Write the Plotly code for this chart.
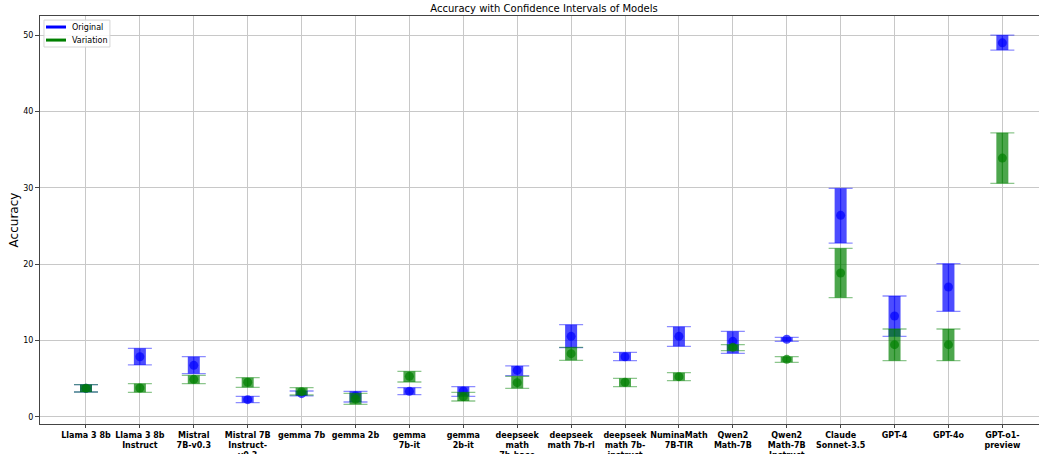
import plotly.graph_objects as go

models = ["Llama 3 8b", "Llama 3 8b Instruct", "Mistral 7B-v0.3", "Mistral 7B Instruct-v0.3",
          "gemma 7b", "gemma 2b", "gemma 7b-it", "gemma 2b-it", "deepseek math 7b-base",
          "deepseek math 7b-rl", "deepseek math 7b-instruct", "NuminaMath 7B-TIR",
          "Qwen2 Math-7B", "Qwen2 Math-7B Instruct", "Claude Sonnet-3.5", "GPT-4", "GPT-4o",
          "GPT-o1-preview"]

tick_labels = ["Llama 3 8b", "Llama 3 8b<br>Instruct", "Mistral<br>7B-v0.3", "Mistral 7B<br>Instruct-<br>v0.3",
               "gemma 7b", "gemma 2b", "gemma<br>7b-it", "gemma<br>2b-it", "deepseek<br>math<br>7b-base",
               "deepseek<br>math 7b-rl", "deepseek<br>math 7b-<br>instruct", "NuminaMath<br>7B-TIR",
               "Qwen2<br>Math-7B", "Qwen2<br>Math-7B<br>Instruct", "Claude<br>Sonnet-3.5", "GPT-4", "GPT-4o",
               "GPT-o1-<br>preview"]

orig_mean = [3.75, 7.89, 6.76, 2.27, 3.05, 2.79, 3.36, 3.40, 6.11, 10.56, 7.89, 10.56, 9.90, 10.17, 26.4, 13.22, 17.02, 48.99]
orig_low = [3.27, 6.81, 5.67, 1.88, 2.75, 1.96, 2.92, 2.71, 5.41, 9.07, 7.37, 9.25, 8.33, 9.90, 22.77, 10.56, 13.83, 48.04]
orig_high = [4.23, 8.99, 7.89, 2.71, 3.40, 3.36, 3.84, 3.97, 6.68, 12.08, 8.46, 11.82, 11.21, 10.43, 29.93, 15.84, 20.07, 50.0]

var_mean = [3.75, 3.80, 4.93, 4.54, 3.31, 2.36, 5.32, 2.66, 4.49, 8.29, 4.54, 5.28, 9.12, 7.55, 18.85, 9.47, 9.47, 33.9]
var_low = [3.27, 3.23, 4.36, 3.88, 2.88, 1.66, 4.58, 2.09, 3.75, 7.42, 3.97, 4.76, 8.68, 7.16, 15.62, 7.37, 7.37, 30.58]
var_high = [4.23, 4.36, 5.45, 5.15, 3.84, 3.10, 5.98, 3.23, 5.32, 9.12, 5.06, 5.80, 9.47, 7.89, 22.08, 11.52, 11.52, 37.21]

y_ticks = [0, 10, 20, 30, 40, 50]

series = [
    ("Original", orig_mean, orig_low, orig_high, (0, 0, 255)),
    ("Variation", var_mean, var_low, var_high, (0, 128, 0)),
]

xs = list(range(len(models)))
fig = go.Figure()

for name, mean, low, high, (r, g, b) in series:
    plus = [h - m for h, m in zip(high, mean)]
    minus = [m - l for m, l in zip(mean, low)]
    # thick interval bar + marker
    fig.add_trace(go.Scatter(
        x=xs, y=mean, mode="markers", showlegend=False, name=name,
        marker=dict(size=9, color=f"rgba({r},{g},{b},0.7)", line=dict(width=0)),
        error_y=dict(type="data", symmetric=False, array=plus, arrayminus=minus,
                     thickness=12, width=0, color=f"rgba({r},{g},{b},0.7)"),
        hovertext=models,
    ))
    # caps
    fig.add_trace(go.Scatter(
        x=xs, y=mean, mode="markers", showlegend=False, hoverinfo="skip",
        marker=dict(size=1, opacity=0),
        error_y=dict(type="data", symmetric=False, array=plus, arrayminus=minus,
                     thickness=1.3, width=12, color=f"rgba({r},{g},{b},0.45)"),
    ))

# legend box (matplotlib style) drawn in paper coordinates
shapes = [dict(type="rect", xref="paper", yref="paper", x0=0.004, x1=0.070, y0=0.924, y1=0.990,
               line=dict(color="#d5d5d5", width=1), fillcolor="rgba(255,255,255,0.85)", layer="above")]
annotations = []
legend_rows = [0.973, 0.941]
for (name, _, _, _, (r, g, b)), ly in zip(series, legend_rows):
    shapes.append(dict(type="line", xref="paper", yref="paper", x0=0.006, x1=0.026, y0=ly, y1=ly,
                       line=dict(color=f"rgb({r},{g},{b})", width=3), layer="above"))
    annotations.append(dict(text=name, xref="paper", yref="paper", x=0.030, y=ly, xanchor="left",
                            yanchor="middle", showarrow=False, font=dict(size=8, color="black")))

fig.update_layout(
    width=1039, height=454,
    margin=dict(l=40, r=0, t=16, b=30),
    plot_bgcolor="white", paper_bgcolor="white",
    font=dict(family="DejaVu Sans", color="black"),
    title=dict(text="Accuracy with Confidence Intervals of Models", x=544 / 1039, xanchor="center",
               yref="container", y=1 - 8 / 454, yanchor="middle", font=dict(size=10, color="black")),
    showlegend=False,
    shapes=shapes, annotations=annotations,
)

fig.update_xaxes(
    range=[-0.853, 17.68], tickmode="array", tickvals=xs, ticktext=tick_labels, tickangle=0,
    tickfont=dict(size=8, family="DejaVu Sans", weight="bold", color="black"),
    showgrid=True, gridcolor="#c8c8c8", gridwidth=1,
    showline=True, linecolor="#444444", linewidth=1, mirror=True,
    ticks="outside", ticklen=3, tickcolor="#444444", automargin=False, zeroline=False,
)
fig.update_yaxes(
    range=[-0.92, 52.5], tickmode="array", tickvals=y_ticks, ticktext=[str(v) for v in y_ticks],
    tickfont=dict(size=8, family="DejaVu Sans", color="black"),
    title=dict(text="Accuracy", font=dict(size=12, family="DejaVu Sans", color="black"), standoff=2),
    showgrid=True, gridcolor="#c8c8c8", gridwidth=1,
    showline=True, linecolor="#444444", linewidth=1, mirror=False,
    ticks="outside", ticklen=4, tickcolor="#444444", automargin=False, zeroline=False,
)

fig.write_html("out.html", config={"displayModeBar": False},
               post_script="document.body.style.margin='0px';")
